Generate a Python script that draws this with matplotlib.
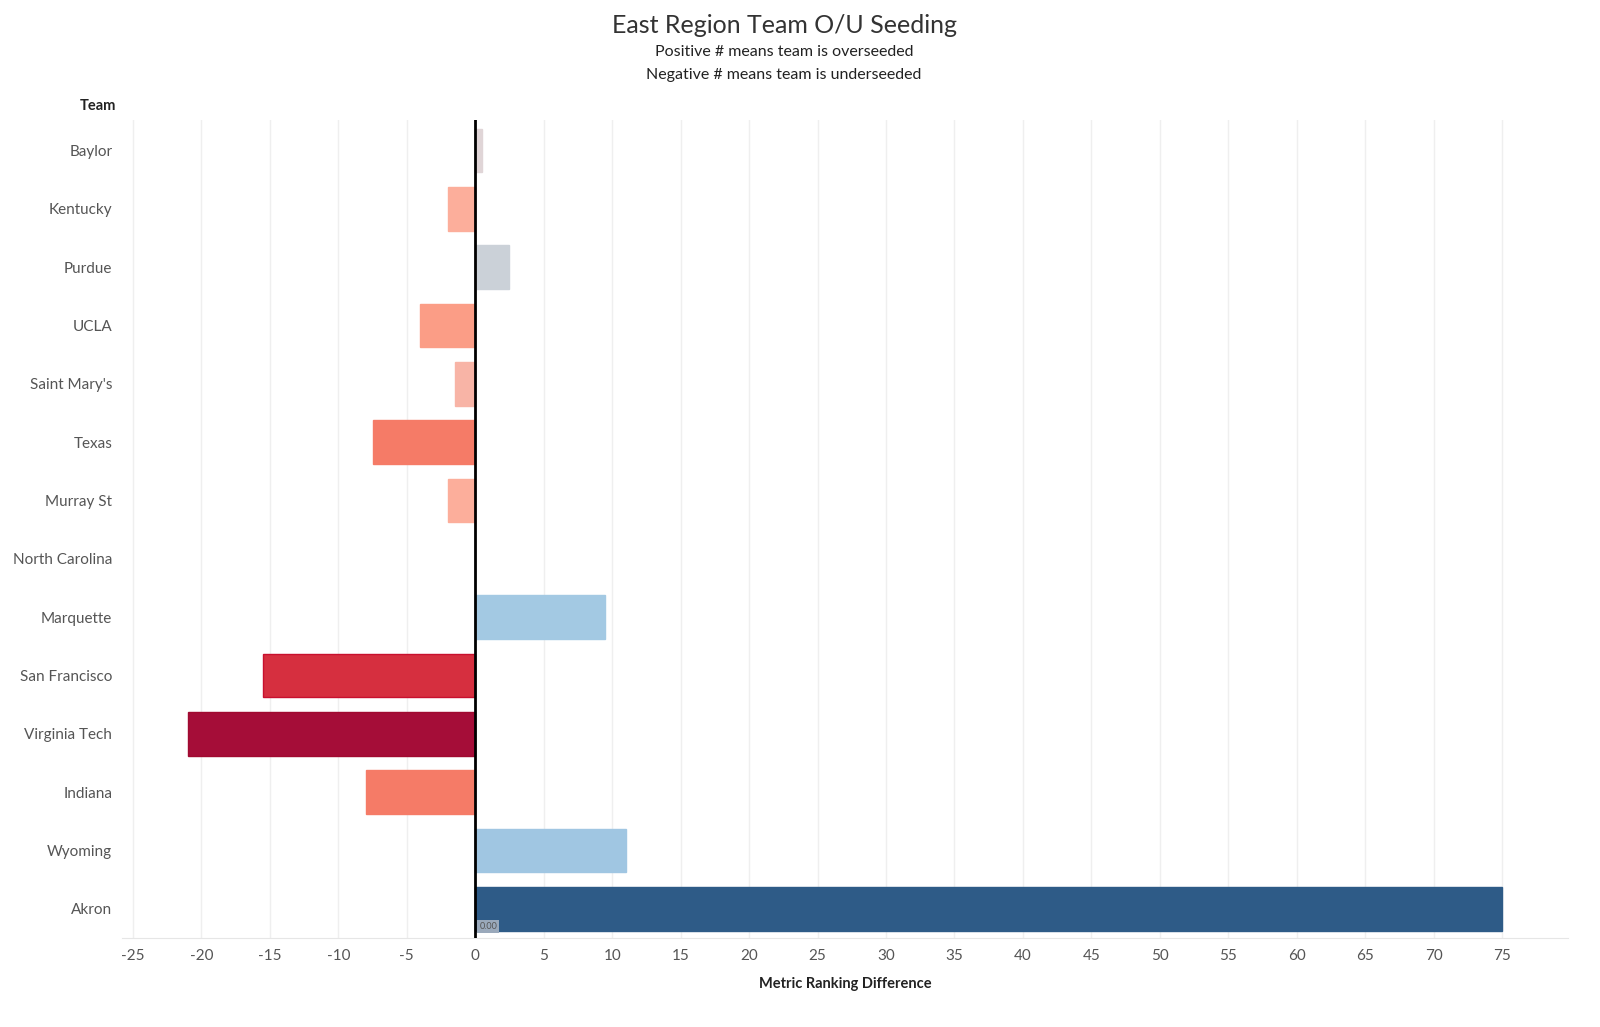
import matplotlib.pyplot as plt

plt.rcParams['font.family'] = ['Lato', 'DejaVu Sans']

teams = ['Baylor', 'Kentucky', 'Purdue', 'UCLA', "Saint Mary's", 'Texas', 'Murray St',
         'North Carolina', 'Marquette', 'San Francisco', 'Virginia Tech', 'Indiana',
         'Wyoming', 'Akron']
diff = [0.5, -2, 2.5, -4, -1.5, -7.5, -2, 0, 9.5, -15.5, -21, -8, 11, 75]
colors = ['#e0d5d7', '#fcae9b', '#cbd1d8', '#fb9d86', '#f8b4a6', '#f57b67', '#fcae9b',
          '#dddddd', '#a3c9e3', '#d62f3f', '#a50d38', '#f57b67', '#a0c6e2', '#2e5b87']
edges = [None] * len(teams)
edges[9] = '#c8102e'
edges[10] = '#a00a30'
ticks = list(range(-25, 80, 5))

fig = plt.figure(figsize=(16, 10.27), dpi=100)
ax = fig.add_axes([0.07625, 0.0867, 0.9037, 0.7963])

ypos = list(range(len(teams)))
for i in ypos:
    ax.barh(i, diff[i], height=0.75, color=colors[i],
            edgecolor=edges[i] if edges[i] else colors[i], linewidth=1, zorder=2)

ax.axvline(0, color='black', linewidth=2, zorder=3)
ax.set_xlim(-25.8, 79.8)
ax.set_ylim(13.5, -0.52)
ax.set_xticks(ticks)
ax.set_xticklabels([str(t) for t in ticks])
ax.set_yticks(ypos)
ax.set_yticklabels(teams)
ax.grid(axis='x', color='#efefef', linewidth=1, zorder=0)
for s in ['top', 'right', 'left']:
    ax.spines[s].set_visible(False)
ax.spines['bottom'].set_color('#e6e6e6')
ax.tick_params(axis='both', length=0, labelsize=11, labelcolor='#555555')
ax.tick_params(axis='x', pad=8)
ax.tick_params(axis='y', pad=7)

# small tooltip-like label on Akron bar
ax.text(0.3, 13.38, '0.00', fontsize=6.5, color='#555555', va='bottom', ha='left',
        bbox=dict(facecolor='#9aa9bb', edgecolor='none', pad=1.5), zorder=4)

ax.set_xlabel('Metric Ranking Difference', fontsize=10.5, fontweight='bold', color='#222222',
              labelpad=10)
fig.text(0.0725, 0.893, 'Team', fontsize=10.5, fontweight='bold', color='#222222', ha='right')

fig.text(0.49, 0.975, 'East Region Team O/U Seeding', fontsize=18, fontweight='normal',
         color='#333333', ha='center', va='center')
fig.text(0.49, 0.949, 'Positive # means team is overseeded', fontsize=11.5,
         color='#222222', ha='center', va='center')
fig.text(0.49, 0.927, 'Negative # means team is underseeded', fontsize=11.5,
         color='#222222', ha='center', va='center')

fig.savefig('out.png')
